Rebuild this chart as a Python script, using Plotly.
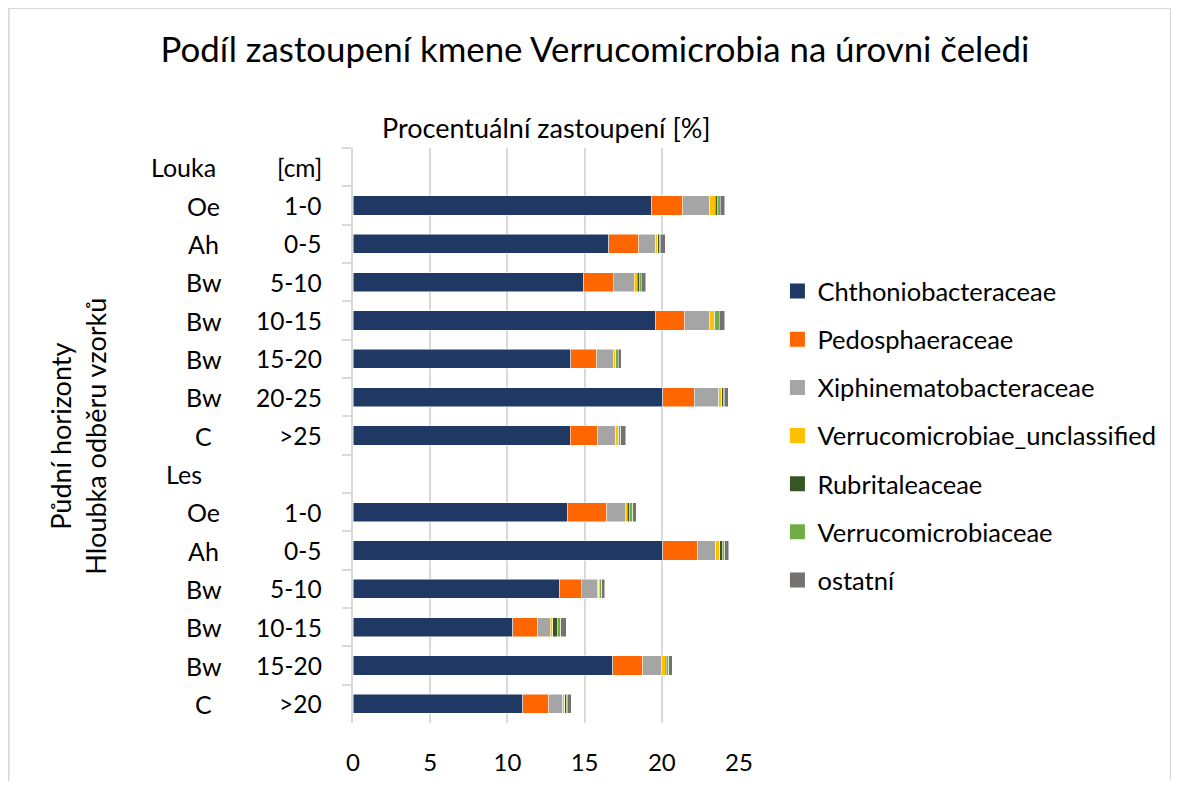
import plotly.graph_objects as go

# ---------------- data ----------------
horizons = ["Louka", "Oe", "Ah", "Bw", "Bw", "Bw", "Bw", "C",
            "Les", "Oe", "Ah", "Bw", "Bw", "Bw", "C"]
depths = ["[cm]", "1-0", "0-5", "5-10", "10-15", "15-20", "20-25", ">25",
          "", "1-0", "0-5", "5-10", "10-15", "15-20", ">20"]

chthoniobacteraceae = [None, 19.35, 16.56, 14.96, 19.60, 14.10, 20.06, 14.06,
                       None, 13.90, 20.06, 13.39, 10.36, 16.82, 10.99]
pedosphaeraceae = [None, 2.00, 1.96, 1.88, 1.88, 1.68, 2.03, 1.79,
                   None, 2.53, 2.26, 1.38, 1.60, 1.94, 1.68]
xiphinematobacteraceae = [None, 1.75, 1.08, 1.36, 1.60, 1.06, 1.60, 1.16,
                          None, 1.19, 1.17, 1.04, 0.82, 1.19, 0.91]
verrucomicrobiae_unclassified = [None, 0.37, 0.15, 0.22, 0.32, 0.15, 0.19, 0.17,
                                 None, 0.15, 0.26, 0.11, 0.17, 0.26, 0.15]
rubritaleaceae = [None, 0.13, 0.10, 0.13, 0.04, 0.04, 0.09, 0.04,
                  None, 0.13, 0.17, 0.06, 0.28, 0.09, 0.09]
verrucomicrobiaceae = [None, 0.17, 0.04, 0.13, 0.28, 0.15, 0.09, 0.11,
                       None, 0.22, 0.15, 0.13, 0.22, 0.15, 0.06]
ostatni = [None, 0.30, 0.32, 0.28, 0.35, 0.19, 0.24, 0.32,
           None, 0.24, 0.26, 0.19, 0.35, 0.24, 0.24]

series_names = ["Chthoniobacteraceae", "Pedosphaeraceae", "Xiphinematobacteraceae",
                "Verrucomicrobiae_unclassified", "Rubritaleaceae",
                "Verrucomicrobiaceae", "ostatní"]
series_values = [chthoniobacteraceae, pedosphaeraceae, xiphinematobacteraceae,
                 verrucomicrobiae_unclassified, rubritaleaceae,
                 verrucomicrobiaceae, ostatni]
series_colors = ["#203864", "#FF6600", "#A5A5A5", "#FFC000", "#375623",
                 "#70AD47", "#767171"]

x_ticks = [0, 5, 10, 15, 20, 25]

title_text = "Podíl zastoupení kmene Verrucomicrobia na úrovni čeledi"
x_title = "Procentuální zastoupení [%]"
y_title = "Půdní horizonty<br>Hloubka odběru vzorků"

# ---------------- layout geometry (figure pixels; page has 8px body margin) ----
W, H = 1163, 773
PL, PR, PT, PB = 345, 730.6, 140, 715   # plot area in figure pixels
FONT = "Lato"
TXT = "#000000"

cats = [f"{i}|{h}|{d}" for i, (h, d) in enumerate(zip(horizons, depths))]


def px_x(px):
    return (px - PL) / (PR - PL)


def px_y(py):
    return (PB - py) / (PB - PT)


fig = go.Figure()

for name, vals, col in zip(series_names, series_values, series_colors):
    fig.add_trace(go.Bar(
        x=vals, y=cats, orientation="h", name=name,
        marker=dict(color=col, line=dict(color="#FFFFFF", width=0.5)),
        showlegend=False, hoverinfo="x+name",
    ))

for name, col in zip(series_names, series_colors):
    fig.add_trace(go.Scatter(
        x=[None], y=[None], mode="markers", name=name, legendgroup=name,
        marker=dict(symbol="square", size=15, color=col),
    ))

annotations = []
for c, h, d in zip(cats, horizons, depths):
    is_header = d in ("[cm]", "")
    annotations.append(dict(
        x=px_x(176 if is_header else 196), xref="paper", y=c, yref="y",
        text=h, showarrow=False, xanchor="center", yanchor="middle",
        font=dict(family=FONT, size=25, color=TXT)))
    if d:
        annotations.append(dict(
            x=px_x(316), xref="paper", y=c, yref="y",
            text=d, showarrow=False, xanchor="right", yanchor="middle",
            font=dict(family=FONT, size=24.5, color=TXT)))

annotations.append(dict(
    x=0.5, xref="paper", y=px_y(120), yref="paper", text=x_title,
    showarrow=False, xanchor="center", yanchor="middle",
    font=dict(family=FONT, size=27, color=TXT)))
annotations.append(dict(
    x=px_x(70), xref="paper", y=px_y(428), yref="paper", text=y_title,
    showarrow=False, xanchor="center", yanchor="middle", textangle=-90,
    font=dict(family=FONT, size=27, color=TXT)))

fig.update_layout(
    width=W, height=H,
    margin=dict(l=PL, r=W - PR, t=PT, b=H - PB, pad=0, autoexpand=False),
    paper_bgcolor="white", plot_bgcolor="white",
    barmode="stack", bargap=0.5,
    title=dict(text=title_text, x=587 / W, xref="container", xanchor="center",
               y=1 - 42 / H, yref="container", yanchor="middle",
               font=dict(family=FONT, size=34.8, color=TXT)),
    font=dict(family=FONT, size=24, color=TXT),
    xaxis=dict(range=[0, 25], tickvals=x_ticks, showgrid=True,
               gridcolor="#D9D9D9", gridwidth=1.5, zeroline=False,
               showline=False, ticks="", ticklabelstandoff=23,
               automargin=False,
               tickfont=dict(family=FONT, size=24, color=TXT)),
    yaxis=dict(type="category", categoryorder="array", categoryarray=cats,
               range=[len(cats) - 0.5, -0.5], showticklabels=False,
               showgrid=False, zeroline=False, showline=True,
               linecolor="#D9D9D9", linewidth=1.5, ticks="outside",
               tickson="boundaries", ticklen=9, tickcolor="#D9D9D9",
               tickwidth=1.5, automargin=False),
    legend=dict(x=px_x(769), xref="paper", xanchor="left", y=px_y(428),
                yanchor="middle", tracegroupgap=12, bgcolor="rgba(0,0,0,0)",
                font=dict(family=FONT, size=25.5, color=TXT)),
    annotations=annotations,
    shapes=[dict(type="rect", xref="paper", yref="paper",
                 x0=px_x(1), x1=px_x(1162), y0=px_y(800), y1=px_y(0),
                 line=dict(color="#D9D9D9", width=2), fillcolor="rgba(0,0,0,0)",
                 layer="below")],
)

fig.write_html("out.html")
